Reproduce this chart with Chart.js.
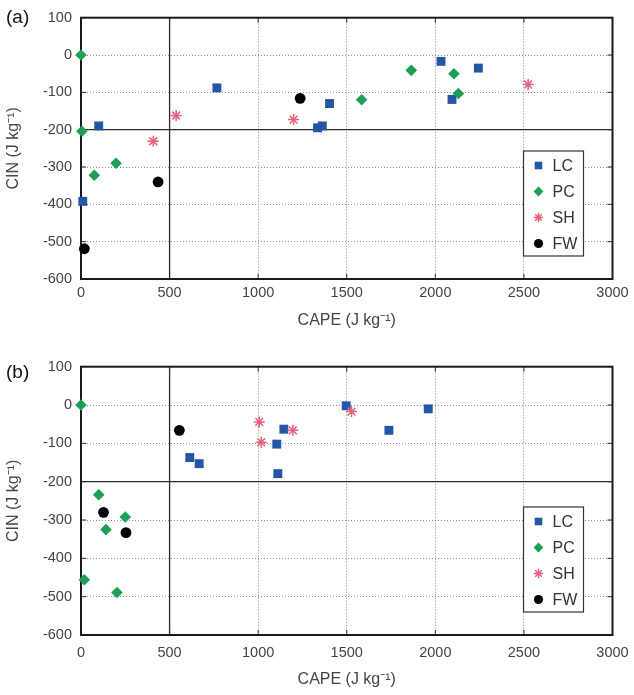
<!DOCTYPE html>
<html>
<head>
<meta charset="utf-8">
<script src="https://cdn.jsdelivr.net/npm/chart.js@4.4.1/dist/chart.umd.min.js"></script>
<style>
  body { margin: 0; background: #fff; font-family: Arial, "Liberation Sans", sans-serif; }
  #page { position: relative; width: 634px; height: 695px; }
  .panel { position: absolute; left: 0; width: 634px; }
  .tag { position: absolute; left: 6px; font-size: 19px; color: #111; line-height: 1; }
</style>
</head>
<body>
<div id="page">
  <div class="panel" style="top:0;height:340px">
    <canvas id="chartA" width="634" height="340"></canvas>
    <div class="tag" style="top:7px">(a)</div>
  </div>
  <div class="panel" style="top:340px;height:355px">
    <canvas id="chartB" width="634" height="355"></canvas>
    <div class="tag" style="top:22px">(b)</div>
  </div>
</div>
<script>
'use strict';

// Series labels and axis setup
var seriesNames = [ 'LC', 'PC', 'SH', 'FW' ];
var capeTicks   = [ 0, 500, 1000, 1500, 2000, 2500, 3000 ];
var cinTicks    = [ 100, 0, -100, -200, -300, -400, -500, -600 ];
var REF_CAPE    = 500;
var REF_CIN     = -200;

// Panel (a): CAPE / CIN pairs per regime
var capeA_LC = [ 767, 100, 10, 1335, 1362, 1403, 2032, 2094, 2243 ];
var cinA_LC  = [ -88, -190, -392, -195, -190, -130, -17, -119, -35 ];
var capeA_PC = [ 0, 5, 75, 198, 1584, 1864, 2105, 2130 ];
var cinA_PC  = [ 0, -204, -322, -290, -120, -41, -50, -103 ];
var capeA_SH = [ 408, 537, 1200, 2524 ];
var cinA_SH  = [ -231, -162, -173, -79 ];
var capeA_FW = [ 19, 435, 1237 ];
var cinA_FW  = [ -519, -340, -116 ];

// Panel (b)
var capeB_LC = [ 614, 667, 1105, 1111, 1145, 1497, 1738, 1960 ];
var cinB_LC  = [ -137, -153, -102, -179, -63, -2, -66, -10 ];
var capeB_PC = [ 0, 100, 141, 250, 19, 203 ];
var cinB_PC  = [ 0, -234, -325, -292, -456, -489 ];
var capeB_SH = [ 1006, 1017, 1196, 1527 ];
var cinB_SH  = [ -44, -97, -66, -17 ];
var capeB_FW = [ 127, 254, 555 ];
var cinB_FW  = [ -280, -333, -66 ];

Chart.defaults.font.family = 'Arial, "Liberation Sans", sans-serif';

var markerStyles = {
	LC : { pointStyle : 'rect',    radius : 6.3, color : '#2456a5', border : 0 },
	PC : { pointStyle : 'rectRot', radius : 5.8, color : '#1e9f55', border : 0 },
	SH : { pointStyle : 'star',    radius : 5.5, color : '#e8607a', border : 1.5 },
	FW : { pointStyle : 'circle',  radius : 5.4, color : '#000000', border : 0 },
};

function zipPoints( xs, ys ) {
	return xs.map( function ( v, i ) { return { x : v, y : ys[ i ] }; } );
}

function makeDataset( name, xs, ys, order ) {
	var m = markerStyles[ name ];
	return {
		label            : name,
		data             : zipPoints( xs, ys ),
		pointStyle       : m.pointStyle,
		pointRadius      : m.radius,
		pointHoverRadius : m.radius,
		backgroundColor  : m.color,
		borderColor      : m.color,
		borderWidth      : m.border,
		showLine         : false,
		clip             : false,
		order            : order,
	};
}

// plain numbers, no thousands separator
function plainLabel( v ) { return String( v ); }

// Box, inward ticks and the two solid reference lines
var axesFrame = {
	id : 'axesFrame',
	beforeDatasetsDraw : function ( chart ) {
		var ctx = chart.ctx, a = chart.chartArea;
		var xs = chart.scales.x, ys = chart.scales.y;
		ctx.save();
		ctx.strokeStyle = '#2a2a2a';
		ctx.lineWidth = 1.3;
		var rx = xs.getPixelForValue( REF_CAPE ), ry = ys.getPixelForValue( REF_CIN );
		ctx.beginPath();
		ctx.moveTo( rx, a.top );  ctx.lineTo( rx, a.bottom );
		ctx.moveTo( a.left, ry ); ctx.lineTo( a.right, ry );
		ctx.stroke();

		ctx.lineWidth = 1;
		ctx.beginPath();
		xs.ticks.forEach( function ( t ) {
			var px = xs.getPixelForValue( t.value );
			ctx.moveTo( px, a.bottom ); ctx.lineTo( px, a.bottom - 5 );
			ctx.moveTo( px, a.top );    ctx.lineTo( px, a.top + 5 );
		} );
		ys.ticks.forEach( function ( t ) {
			var py = ys.getPixelForValue( t.value );
			ctx.moveTo( a.left, py );  ctx.lineTo( a.left + 5, py );
			ctx.moveTo( a.right, py ); ctx.lineTo( a.right - 5, py );
		} );
		ctx.stroke();

		ctx.lineWidth = 2;
		ctx.strokeStyle = '#1a1a1a';
		ctx.strokeRect( a.left, a.top, a.right - a.left, a.bottom - a.top );
		ctx.restore();
	},
};

// Boxed legend in the lower right of the plot area
var insetLegend = {
	id : 'insetLegend',
	afterDatasetsDraw : function ( chart ) {
		var ctx = chart.ctx, a = chart.chartArea;
		var w = 60, h = 105;
		var x0 = a.right - 29 - w, y0 = a.bottom - 23 - h;
		ctx.save();
		ctx.fillStyle = '#fff';
		ctx.fillRect( x0, y0, w, h );
		ctx.strokeStyle = '#333';
		ctx.lineWidth = 1.2;
		ctx.strokeRect( x0, y0, w, h );
		ctx.font = '16px Arial, "Liberation Sans", sans-serif';
		ctx.textBaseline = 'middle';
		seriesNames.forEach( function ( name, i ) {
			var m = markerStyles[ name ];
			var cy = y0 + 14.5 + i * 26;
			ctx.fillStyle = m.color;
			ctx.strokeStyle = m.color;
			ctx.lineWidth = m.border;
			Chart.helpers.drawPoint( ctx, {
				pointStyle  : m.pointStyle,
				radius      : m.radius * 0.85,
				rotation    : 0,
				borderWidth : m.border,
			}, x0 + 15, cy );
			ctx.fillStyle = '#333';
			ctx.fillText( name, x0 + 29, cy + 1 );
		} );
		ctx.restore();
	},
};

function buildPanel( canvasId, sets, geo ) {
	var cv = document.getElementById( canvasId );
	return new Chart( cv, {
		type : 'scatter',
		data : { datasets : sets },
		options : {
			responsive : false,
			animation  : false,
			events     : [],
			layout : { padding : { top : geo.top, right : geo.right, left : 0, bottom : 0 } },
			plugins : {
				legend  : { display : false },
				tooltip : { enabled : false },
			},
			scales : {
				x : {
					type : 'linear',
					min  : capeTicks[ 0 ],
					max  : capeTicks[ capeTicks.length - 1 ],
					afterBuildTicks : function ( s ) {
						s.ticks = capeTicks.map( function ( v ) { return { value : v }; } );
					},
					afterFit : function ( s ) {
						s.height = geo.xHeight;
						s.paddingLeft = 0;
						s.paddingRight = 0;
					},
					grid   : { color : '#8c8c8c', lineWidth : 1, drawTicks : false },
					border : { display : false, dash : [ 1, 2 ] },
					ticks  : { color : '#444', font : { size : 14.5 }, padding : geo.xTickPad, maxRotation : 0, callback : plainLabel },
					title  : {
						display : true,
						text    : 'CAPE (J kg⁻¹)',
						color   : '#444',
						font    : { size : 16 },
						padding : { top : 0, bottom : geo.xTitlePad },
					},
				},
				y : {
					type : 'linear',
					min  : cinTicks[ cinTicks.length - 1 ],
					max  : cinTicks[ 0 ],
					afterBuildTicks : function ( s ) {
						s.ticks = cinTicks.slice().reverse().map( function ( v ) { return { value : v }; } );
					},
					afterFit : function ( s ) { s.width = 81; },
					grid   : { color : '#8c8c8c', lineWidth : 1, drawTicks : false },
					border : { display : false, dash : [ 1, 2 ] },
					ticks  : { color : '#444', font : { size : 14.5 }, padding : 9, callback : plainLabel },
					title  : {
						display : true,
						text    : 'CIN (J kg⁻¹)',
						color   : '#444',
						font    : { size : 16 },
						padding : { top : 4, bottom : 0 },
					},
				},
			},
		},
		plugins : [ axesFrame, insetLegend ],
	} );
}

buildPanel( 'chartA', [
	makeDataset( 'LC', capeA_LC, cinA_LC, 3 ),
	makeDataset( 'PC', capeA_PC, cinA_PC, 2 ),
	makeDataset( 'SH', capeA_SH, cinA_SH, 1 ),
	makeDataset( 'FW', capeA_FW, cinA_FW, 0 ),
], { top : 14, right : 21.5, xHeight : 61, xTickPad : 5.3, xTitlePad : 9.5 } );

buildPanel( 'chartB', [
	makeDataset( 'LC', capeB_LC, cinB_LC, 3 ),
	makeDataset( 'PC', capeB_PC, cinB_PC, 2 ),
	makeDataset( 'SH', capeB_SH, cinB_SH, 1 ),
	makeDataset( 'FW', capeB_FW, cinB_FW, 0 ),
], { top : 26.7, right : 21.5, xHeight : 60, xTickPad : 9.3, xTitlePad : 5.5 } );
</script>
</body>
</html>
